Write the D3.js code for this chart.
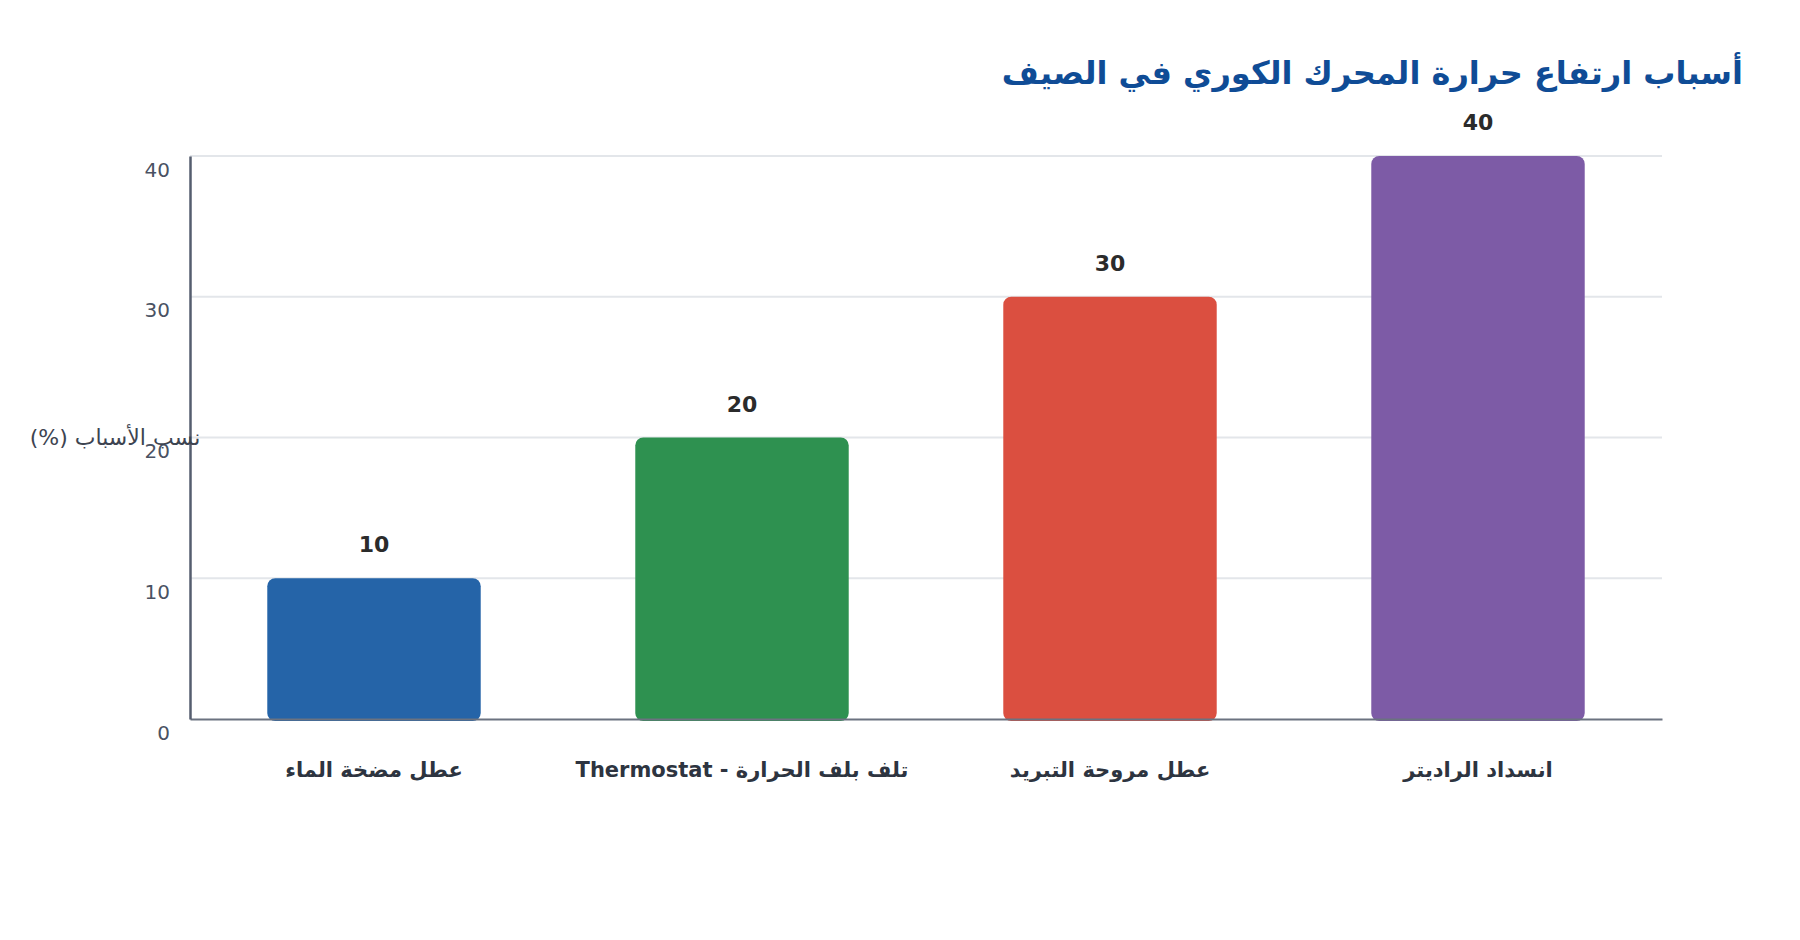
<!DOCTYPE html>
<html lang="ar">
<head>
<meta charset="utf-8">
<script src="https://cdn.jsdelivr.net/npm/d3@7"></script>
<style>
  body { margin: 0; background: #fff; }
  svg { display: block; font-family: "DejaVu Sans", sans-serif; }
</style>
</head>
<body>
<div id="chart"></div>
<script>
// chart data
const categories = ["عطل مضخة الماء", "تلف بلف الحرارة - Thermostat", "عطل مروحة التبريد", "انسداد الراديتر"];
const values = [10, 20, 30, 40];
const barColors = ["#2564a8", "#2e9150", "#db4f40", "#7d5ba6"];
const yTicks = [0, 10, 20, 30, 40];
const titleText = "أسباب ارتفاع حرارة المحرك الكوري في الصيف";
const yLabel = "نسب الأسباب (%)";

const width = 1800;
const height = 940;
const margin = { top: 156, right: 138, bottom: 221, left: 190 };

const svg = d3.select("#chart")
    .append("svg")
    .attr("width", width)
    .attr("height", height);

// scales
const xScale = d3.scaleBand()
    .domain(categories)
    .range([margin.left, width - margin.right])
    .paddingInner(0.42)
    .paddingOuter(0.21);

const yScale = d3.scaleLinear()
    .domain([0, 40])
    .range([height - margin.bottom, margin.top]);

// gridlines
svg.append("g")
    .attr("class", "grid")
    .selectAll("line")
    .data(yTicks.filter(d => d > 0))
    .enter()
    .append("line")
    .attr("x1", margin.left)
    .attr("x2", width - margin.right)
    .attr("y1", d => yScale(d))
    .attr("y2", d => yScale(d))
    .attr("stroke", "#e3e6ea")
    .attr("stroke-width", 2);

// bars
svg.append("g")
    .selectAll("rect")
    .data(values)
    .enter()
    .append("rect")
    .attr("x", (d, i) => xScale(categories[i]))
    .attr("y", d => yScale(d))
    .attr("width", xScale.bandwidth())
    .attr("height", d => yScale(0) - yScale(d) + 2)
    .attr("rx", 8)
    .attr("fill", (d, i) => barColors[i]);

// value labels
svg.append("g")
    .selectAll("text")
    .data(values)
    .enter()
    .append("text")
    .attr("x", (d, i) => xScale(categories[i]) + xScale.bandwidth() / 2)
    .attr("y", d => yScale(d) - 26)
    .attr("text-anchor", "middle")
    .attr("font-size", 22)
    .attr("font-weight", "bold")
    .attr("fill", "#2b2b2b")
    .text(d => d);

// x axis
const xAxisGroup = svg.append("g")
    .attr("transform", `translate(0, ${yScale(0)})`)
    .call(d3.axisBottom(xScale).tickSize(0).tickPadding(0));

xAxisGroup.select(".domain")
    .attr("stroke", "#6b7280")
    .attr("stroke-width", 2);

xAxisGroup.selectAll(".tick text")
    .attr("y", 58)
    .attr("dy", 0)
    .attr("direction", "rtl")
    .attr("font-size", 21)
    .attr("font-weight", "bold")
    .attr("font-family", "DejaVu Sans, sans-serif")
    .attr("fill", "#2d3440");

// y axis
const yAxisGroup = svg.append("g")
    .attr("transform", `translate(${margin.left}, 0)`)
    .call(d3.axisLeft(yScale).tickValues(yTicks).tickSize(0).tickPadding(20));

yAxisGroup.select(".domain")
    .attr("stroke", "#555d6e")
    .attr("stroke-width", 2.5);

yAxisGroup.selectAll(".tick text")
    .attr("dy", "1em")
    .attr("font-size", 20)
    .attr("font-family", "DejaVu Sans, sans-serif")
    .attr("fill", "#4a5263");

// y axis label
svg.append("text")
    .attr("x", 115)
    .attr("y", yScale(20) + 7)
    .attr("text-anchor", "middle")
    .attr("direction", "rtl")
    .attr("font-size", 22)
    .attr("fill", "#3d4451")
    .text(yLabel);

// title
svg.append("text")
    .attr("x", 1743)
    .attr("y", 84)
    .attr("text-anchor", "end")
    .attr("font-size", 32)
    .attr("font-weight", "bold")
    .attr("fill", "#0f4c96")
    .text(titleText);
</script>
</body>
</html>
